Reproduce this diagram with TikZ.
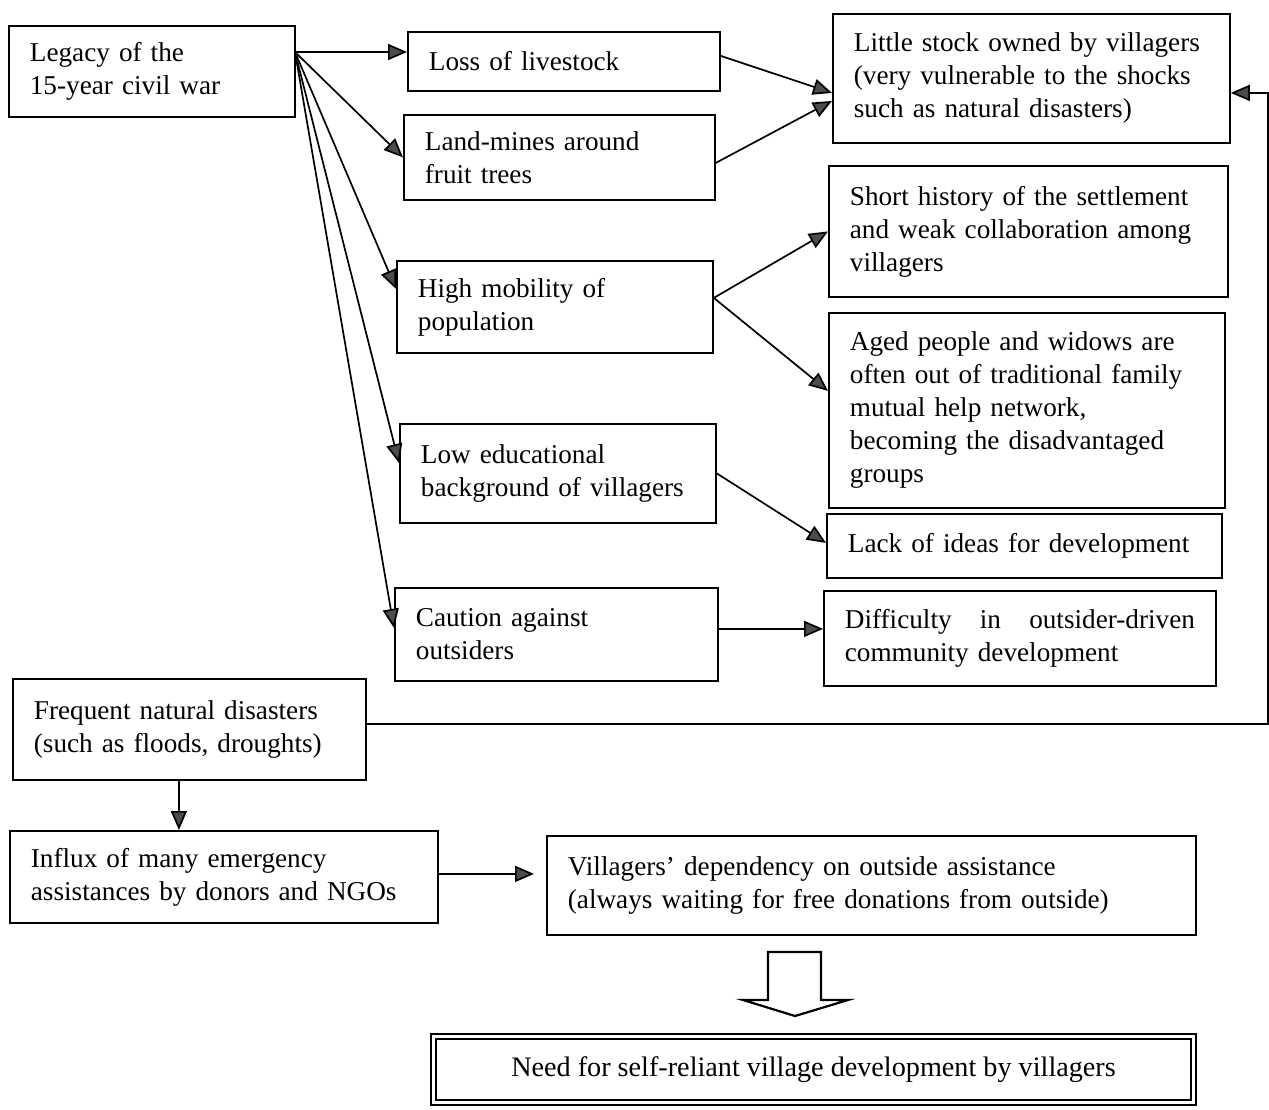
\documentclass[tikz,border=0pt]{standalone}
\usepackage{fontspec}
\setmainfont{Liberation Serif}
\usetikzlibrary{arrows.meta,calc}
\hyphenpenalty=10000
\exhyphenpenalty=10000
\begin{document}
\begin{tikzpicture}[x=0.5pt,y=-0.5pt,
  box/.style={draw, line width=0.9pt, rectangle, anchor=north west, inner xsep=10.5pt, inner ysep=2pt, align=left, font=\fontsize{13.6pt}{16.5pt}\selectfont},
  arr/.style={line width=0.85pt, -{Triangle[length=9.5pt,width=8pt,fill=black!70]}},
  blockarrow/.style={draw, line width=1.1pt, line join=miter},
]
\useasboundingbox (0,0) rectangle (1269,1109);

\node[box, minimum width=143pt, minimum height=45.5pt, text width=122pt] (legacy) at (8,25) {Legacy of the\\15-year civil war};
\node[box, minimum width=156pt, minimum height=29.5pt, text width=135pt] (loss) at (407,31) {Loss of livestock};
\node[box, minimum width=155.5pt, minimum height=42.5pt, text width=134.5pt] (mines) at (403,114) {Land-mines around\\fruit trees};
\node[box, minimum width=198.5pt, minimum height=64.5pt, text width=177.5pt] (stock) at (832,13) {Little stock owned by villagers\\(very vulnerable to the shocks\\such as natural disasters)};
\node[box, minimum width=199.5pt, minimum height=65.5pt, text width=178.5pt] (short) at (828,165) {Short history of the settlement\\and weak collaboration among\\villagers};
\node[box, minimum width=158pt, minimum height=46pt, text width=137pt] (mob) at (396,260) {High mobility of\\population};
\node[box, minimum width=198pt, minimum height=97.5pt, text width=177pt] (aged) at (828,312) {Aged people and widows are\\often out of traditional family\\mutual help network,\\becoming the disadvantaged\\groups};
\node[box, minimum width=158pt, minimum height=49.5pt, text width=137pt] (edu) at (399,423) {Low educational\\background of villagers};
\node[box, minimum width=197.5pt, minimum height=32pt, text width=176.5pt] (lack) at (826,513) {Lack of ideas for development};
\node[box, minimum width=161.5pt, minimum height=46.5pt, text width=140.5pt] (caution) at (394,587) {Caution against\\outsiders};
\node[box, minimum width=196pt, minimum height=47.5pt, text width=175pt] (diff) at (823,590) {\hbox to \linewidth{Difficulty\hfill in\hfill outsider-driven}\\community development};
\node[box, minimum width=176.5pt, minimum height=50.5pt, text width=155.5pt] (freq) at (12,678) {Frequent natural disasters\\(such as floods, droughts)};
\node[box, minimum width=214pt, minimum height=46pt, text width=193pt] (influx) at (9,830) {Influx of many emergency\\assistances by donors and NGOs};
\node[box, minimum width=324.5pt, minimum height=49.5pt, text width=303.5pt] (dep) at (546,835) {Villagers’ dependency on outside assistance\\(always waiting for free donations from outside)};
\node[box, anchor=center, align=center, text width=, double, double distance=1.8pt, line width=0.7pt, minimum width=380pt, minimum height=33pt, font=\fontsize{14.1pt}{16.5pt}\selectfont] (need) at (813.5,1069.5) {Need for self-reliant village development by villagers};

% connectors from the legacy node
\coordinate (o) at (295,52);
\draw[arr] (o) -- (o -| loss.west);
\draw[arr] (o) -- (mines.west);
\draw[arr] (o) -- ([yshift=9pt]mob.west);
\draw[arr] (o) -- ([yshift=5.25pt]edu.west);
\draw[arr] (o) -- ([yshift=3.25pt]caution.west);

\draw[arr] ([yshift=2.75pt]loss.east) -- ([yshift=-7.25pt]stock.west);
\draw[arr] ([yshift=-2.75pt]mines.east) -- ([yshift=-11.25pt]stock.west);
\draw[arr] ([yshift=4.5pt]mob.east) -- (short.west);
\draw[arr] ([yshift=4.5pt]mob.east) -- ([yshift=9.75pt]aged.west);
\draw[arr] (edu.east) -- ([yshift=1.5pt]lack.west);
\coordinate (ca) at ([yshift=2.75pt]caution.east);
\draw[arr] (ca) -- (ca -| diff.west);

% feedback from natural disasters to little stock
\coordinate (fa) at ([yshift=2.75pt]freq.east);
\coordinate (rc) at (1268,0);
\coordinate (sa) at ([yshift=-7.25pt]stock.east);
\draw[arr] (fa) -- (fa -| rc) |- (sa);

\coordinate (fd) at ([xshift=-5.25pt]freq.south);
\draw[arr] (fd) -- (fd |- influx.north);

\coordinate (ia) at ([yshift=1.5pt]influx.east);
\draw[arr, shorten >=6pt] (ia) -- (ia -| dep.west);

% block arrow
\draw[blockarrow] (768,952) -- (821,952) -- (821,1000) -- (848,1000) -- (795,1016) -- (743,1000) -- (768,1000) -- cycle;
\end{tikzpicture}
\end{document}
